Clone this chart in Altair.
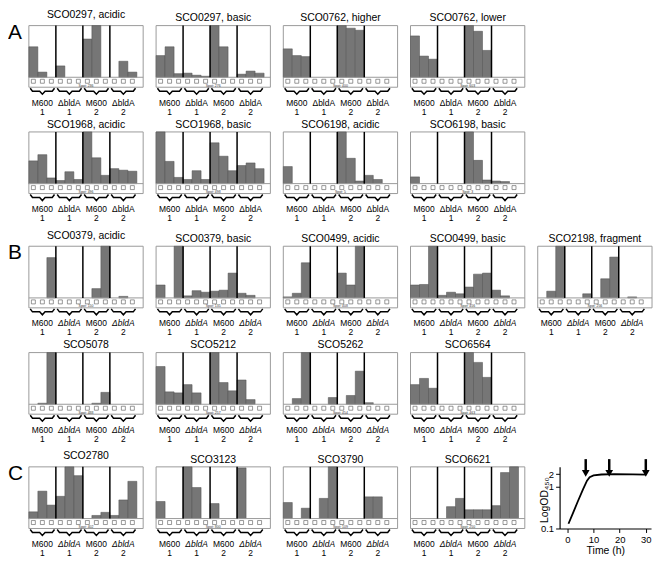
import altair as alt
import pandas as pd

FONT = "Liberation Sans"

# ---------------- data ----------------
group_names = ["M600", "ΔbldA", "M600", "ΔbldA"]
group_numbers = ["1", "1", "2", "2"]

# 12 bars per panel: 4 groups (M600 1, ΔbldA 1, M600 2, ΔbldA 2) x 3 time points
sco0297_acidic = [59, 10, 0, 22, 0, 0, 74, 100, 0, 0, 31, 10]
sco0297_basic = [42, 59, 7, 8, 4, 2, 100, 59, 0, 6, 12, 8]
sco0762_higher = [55, 42, 40, 0, 0, 0, 100, 95, 91, 0, 0, 0]
sco0762_lower = [80, 41, 35, 0, 0, 0, 100, 89, 52, 0, 0, 0]
sco1968_acidic = [44, 56, 11, 6, 23, 8, 100, 50, 16, 29, 26, 24]
sco1968_basic = [100, 43, 12, 8, 25, 8, 79, 53, 25, 35, 40, 29]
sco6198_acidic = [33, 0, 0, 0, 0, 0, 100, 49, 5, 16, 8, 0]
sco6198_basic = [13, 0, 0, 0, 0, 0, 100, 45, 7, 5, 4, 0]

sco0379_acidic = [0, 0, 78, 0, 0, 0, 0, 18, 100, 0, 3, 0]
sco0379_basic = [25, 0, 100, 4, 14, 11, 13, 15, 48, 9, 5, 0]
sco0499_acidic = [2, 9, 68, 0, 0, 0, 48, 25, 100, 0, 0, 0]
sco0499_basic = [25, 26, 100, 5, 11, 8, 21, 46, 48, 15, 4, 0]
sco2198_fragment = [0, 13, 100, 0, 0, 8, 0, 37, 79, 0, 2, 0]
sco5078 = [0, 2, 100, 0, 0, 0, 0, 2, 23, 0, 0, 0]
sco5212 = [73, 24, 22, 38, 22, 0, 100, 42, 26, 47, 9, 0]
sco5262 = [0, 11, 100, 0, 0, 13, 0, 17, 64, 3, 0, 0]
sco6564 = [38, 50, 31, 0, 0, 0, 100, 81, 52, 0, 0, 0]

sco2780 = [13, 53, 26, 43, 100, 83, 0, 6, 12, 6, 36, 72]
sco3123 = [33, 0, 0, 100, 60, 0, 29, 0, 0, 98, 0, 0]
sco3790 = [31, 0, 20, 0, 39, 100, 0, 0, 0, 42, 42, 0]
sco6621 = [0, 0, 0, 0, 23, 39, 17, 17, 17, 25, 89, 100]

row_a1 = [("SCO0297, acidic", sco0297_acidic, "Spot: 236"),
          ("SCO0297, basic", sco0297_basic, "Spot: 276"),
          ("SCO0762, higher", sco0762_higher, "Spot: 400"),
          ("SCO0762, lower", sco0762_lower, "Spot: 603")]
row_a2 = [("SCO1968, acidic", sco1968_acidic, "Spot: 496"),
          ("SCO1968, basic", sco1968_basic, "Spot: 498"),
          ("SCO6198, acidic", sco6198_acidic, "Spot: 5"),
          ("SCO6198, basic", sco6198_basic, "Spot: 3")]
row_b1 = [("SCO0379, acidic", sco0379_acidic, "Spot: 150"),
          ("SCO0379, basic", sco0379_basic, "Spot: 135"),
          ("SCO0499, acidic", sco0499_acidic, "Spot: 408"),
          ("SCO0499, basic", sco0499_basic, "Spot: 456"),
          ("SCO2198, fragment", sco2198_fragment, "Spot: 256")]
row_b2 = [("SCO5078", sco5078, "Spot: 488"),
          ("SCO5212", sco5212, "Spot: 257"),
          ("SCO5262", sco5262, "Spot: 454"),
          ("SCO6564", sco6564, "Spot: 463")]
row_c = [("SCO2780", sco2780, "Spot: 402"),
         ("SCO3123", sco3123, "Spot: 800"),
         ("SCO3790", sco3790, "Spot: 109"),
         ("SCO6621", sco6621, "Spot: 250")]

growth_time = [0.4, 2.2, 4.0, 6.0, 7.5, 8.5, 10, 13, 18, 25, 30]
growth_od = [0.13, 0.24, 0.45, 0.88, 1.4, 1.7, 1.88, 1.97, 2.0, 1.98, 1.95]
arrow_times = [7, 16, 30]
time_ticks = [0, 10, 20, 30]
od_ticks = [0.1, 1, 2]

# ---------------- layout ----------------
W = 115
BH = 52.0
H = 91
EXTRA = 8
U = 100.0 / BH
XMAX = 12.7
XSC = alt.Scale(domain=[0, XMAX], nice=False, zero=False)
LABEL_SIZE = 8.5


def px(p):
    return -p * U


def bar_panel(title, values, spot, italic, letter=None, extra=0):
    h = H + extra
    ysc = alt.Scale(domain=[-(h - BH) * U, 100], nice=False, zero=False)

    def xq(f):
        return alt.X(f, type="quantitative", scale=XSC, axis=None)

    def yq(f):
        return alt.Y(f, type="quantitative", scale=ysc, axis=None)

    bars_df = pd.DataFrame({"slot": list(range(12)), "value": values})
    bars = (alt.Chart(bars_df)
            .transform_filter("datum.value > 0")
            .transform_calculate(slot_end="datum.slot + 1", base="0")
            .mark_rect(fill="#767676", stroke="#4d4d4d", strokeWidth=0.5)
            .encode(x=xq("slot"), x2="slot_end:Q", y=yq("base"), y2="value:Q"))

    box_df = pd.DataFrame({"x0": [0], "x1": [XMAX], "y0": [px(10)], "y1": [100]})
    box = alt.Chart(box_df).mark_rect(fillOpacity=0, stroke="#9a9a9a", strokeWidth=1).encode(
        x=xq("x0"), x2="x1:Q", y=yq("y0"), y2="y1:Q")

    base_df = pd.DataFrame({"x0": [0], "x1": [XMAX], "y": [0]})
    baseline = alt.Chart(base_df).mark_rule(color="#9a9a9a", strokeWidth=1).encode(
        x=xq("x0"), x2="x1:Q", y=yq("y"))

    sep_df = pd.DataFrame({"x": [3, 6, 9], "y0": [0, 0, 0], "y1": [100, 100, 100]})
    seps = alt.Chart(sep_df).mark_rule(color="black", strokeWidth=1.5).encode(
        x=xq("x"), y=yq("y0"), y2="y1:Q")

    sq_df = pd.DataFrame({"x": [i + 0.5 for i in range(12)], "y": [px(4)] * 12})
    squares = alt.Chart(sq_df).mark_square(size=16, fill="white", stroke="#555555",
                                           strokeWidth=0.6, opacity=1).encode(
        x=xq("x"), y=yq("y"))

    spot_df = pd.DataFrame({"x": [XMAX / 2], "y": [px(8.3)], "t": [spot]})
    spot_t = alt.Chart(spot_df).mark_text(fontSize=3.5, font=FONT, color="#333333").encode(
        x=xq("x"), y=yq("y"), text="t:N")

    rows = []
    for g in range(4):
        x0, x1, m = 3 * g + 0.15, 3 * g + 2.85, 3 * g + 1.5
        pts = [(x0, 11), (x0 + 0.25, 14), (m - 0.3, 14), (m, 17),
               (m + 0.3, 14), (x1 - 0.25, 14), (x1, 11)]
        for i, (x, p) in enumerate(pts):
            rows.append({"g": g, "i": i, "x": x, "y": px(p)})
    braces = alt.Chart(pd.DataFrame(rows)).mark_line(color="black", strokeWidth=1.5).encode(
        x=xq("x"), y=yq("y"), detail="g:N", order="i:Q")

    lab_df = pd.DataFrame({"x": [1.5, 4.5, 7.5, 10.5], "name": group_names,
                           "num": group_numbers, "y1": [px(25.5)] * 4, "y2": [px(34.5)] * 4,
                           "kind": ["wt", "mut", "wt", "mut"]})
    lab_wt = alt.Chart(lab_df).transform_filter("datum.kind == 'wt'").mark_text(
        fontSize=LABEL_SIZE, font=FONT, color="black").encode(
        x=xq("x"), y=yq("y1"), text="name:N")
    lab_mut = alt.Chart(lab_df).transform_filter("datum.kind == 'mut'").mark_text(
        fontSize=LABEL_SIZE, font=FONT, color="black",
        fontStyle="italic" if italic else "normal").encode(
        x=xq("x"), y=yq("y1"), text="name:N")
    lab_num = alt.Chart(lab_df).mark_text(fontSize=LABEL_SIZE, font=FONT, color="black").encode(
        x=xq("x"), y=yq("y2"), text="num:N")

    layers = [box, bars, baseline, seps, squares, spot_t, braces, lab_wt, lab_mut, lab_num]
    if letter is not None:
        let_df = pd.DataFrame({"t": [letter]})
        layers.append(alt.Chart(let_df).mark_text(
            fontSize=21, font=FONT, align="left", baseline="alphabetic", color="black").encode(
            text="t:N", x=alt.value(-21), y=alt.value(13)))

    return alt.layer(*layers).properties(
        width=W, height=h,
        title=alt.TitleParams(text=title, fontSize=10.5, font=FONT, fontWeight="normal",
                              color="black", offset=1, anchor="middle"))


def blank(h):
    d = pd.DataFrame({"a": [0]})
    return alt.Chart(d).mark_point(opacity=0).encode(
        x=alt.X("a:Q", axis=None), y=alt.Y("a:Q", axis=None)).properties(width=W, height=h)


def row_cells(specs, italic, letter=None, extra=0):
    return [bar_panel(t, v, s, italic, letter if k == 0 else None, extra)
            for k, (t, v, s) in enumerate(specs)]


# growth curve panel (plot area starts 22 px into its cell)
GW = 114
TSC = alt.Scale(domain=[-3, 32], nice=False, zero=False, range=[22, GW])
ODSC = alt.Scale(type="log", domain=[0.1, 3], nice=False)
axis_style = dict(grid=False, domainColor="black", domainWidth=1.2, tickColor="black",
                  tickSize=4, labelColor="black", labelFont=FONT, labelFontSize=9.5,
                  titleColor="black", titleFont=FONT, titleFontSize=10.5,
                  titleFontWeight="normal", labelOverlap=False, labelBound=False,
                  labelFlush=False)
X_AXIS = alt.Axis(values=time_ticks, title="Time (h)", format="d",
                  titlePadding=2, labelPadding=2, titleX=68, **axis_style)
Y_AXIS = alt.Axis(values=od_ticks, format="~g", title="LogOD₄₅₀", titleX=-15, titleY=33,
                  titleAngle=-90, titleBaseline="middle", titleAlign="center",
                  labelPadding=2, offset=-22, **axis_style)


def gx(f):
    return alt.X(f, type="quantitative", scale=TSC, axis=X_AXIS, title="Time (h)")


def gy(f):
    return alt.Y(f, type="quantitative", scale=ODSC, axis=Y_AXIS, title="LogOD₄₅₀")


g_df = pd.DataFrame({"t": growth_time, "od": growth_od})
curve = alt.Chart(g_df).mark_line(color="black", strokeWidth=1.8).encode(
    x=gx("t"), y=gy("od"))
arr_df = pd.DataFrame({"t": arrow_times, "top": [4.6] * 3, "bot": [2.5] * 3, "head": [2.1] * 3})
shafts = alt.Chart(arr_df).mark_rule(color="black", strokeWidth=2.5).encode(
    x=gx("t"), y=gy("top"), y2="bot:Q")
heads = alt.Chart(arr_df).mark_point(shape="triangle-down", filled=True, size=60,
                                     color="black", opacity=1).encode(
    x=gx("t"), y=gy("head"))
growth = alt.layer(curve, shafts, heads).properties(width=GW, height=62)

cells = (row_cells(row_a1, False, "A") + [blank(H)]
         + row_cells(row_a2, False, None, EXTRA) + [blank(H + EXTRA)]
         + row_cells(row_b1, True, "B")
         + row_cells(row_b2, True, None, EXTRA) + [blank(H + EXTRA)]
         + row_cells(row_c, True, "C") + [growth])

chart = alt.concat(*cells, columns=5, spacing={"row": 16, "column": 13},
                   bounds="flush").properties(
    padding={"left": 0, "top": 0, "right": 2, "bottom": 2}
).configure_view(stroke=None)

chart.save("out.html", embed_options={"renderer": "svg", "actions": False})
